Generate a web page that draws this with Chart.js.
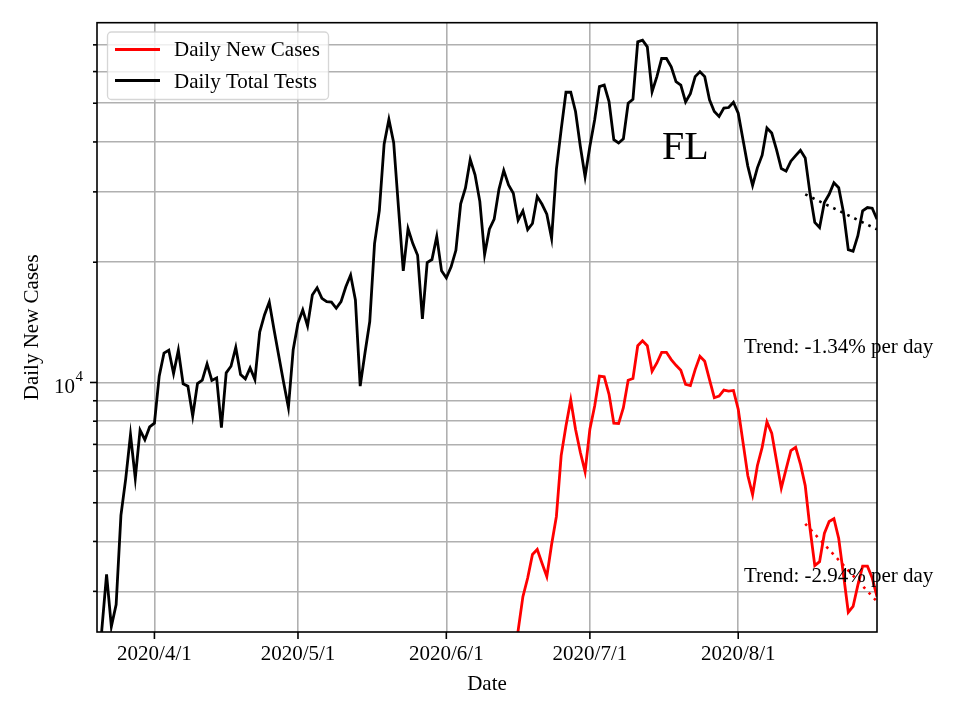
<!DOCTYPE html>
<html>
<head>
<meta charset="utf-8">
<script src="https://cdn.jsdelivr.net/npm/chart.js@4.4.1/dist/chart.umd.min.js"></script>
<style>
  html, body { margin: 0; padding: 0; background: #fff; }
  canvas { display: block; }
</style>
</head>
<body>
<canvas id="grafica-fl" width="960" height="720"></canvas>
<script>
// Eje x: dia 0 = 2020-03-20, ultimo dia = 2020-08-30
const primerDia = "2020-03-20";
const ultimoDia = 163;
const diasTicks = [12, 42, 73, 103, 134];
const etiquetasTicks = ["2020/4/1", "2020/5/1", "2020/6/1", "2020/7/1", "2020/8/1"];

// Eje y logaritmico
const ticksY = [3000, 4000, 5000, 6000, 7000, 8000, 9000, 10000, 20000, 30000, 40000, 50000, 60000, 70000];
const minY = 2374;
const maxY = 79530;

// Pruebas totales diarias (dia 0 .. 163)
const pruebasDiarias = [
  1500, 2400, 3310, 2450, 2780, 4650, 5740, 7400, 5760, 7600,
  7190, 7740, 7910, 10370, 11850, 12040, 10530, 12040, 9920, 9790,
  8240, 9940, 10130, 11130, 10120, 10270, 7710, 10570, 10980, 12240,
  10470, 10210, 10880, 10170, 13370, 14760, 15900, 13550, 11630, 10000,
  8660, 12080, 14080, 15190, 13860, 16550, 17260, 16240, 15930, 15900,
  15340, 15930, 17360, 18570, 16090, 9790, 11850, 14210, 22260, 26930,
  39480, 45530, 39850, 27450, 19030, 24260, 22260, 20820, 14430, 19960,
  20310, 23210, 19030, 18280, 19470, 21420, 27990, 30680, 36140, 33110,
  28410, 20910, 24200, 25630, 30440, 33950, 31210, 29750, 25490, 26890,
  24120, 25000, 29190, 27930, 26380, 22950, 34140, 42930, 53260, 53260,
  47680, 39020, 32730, 39020, 45440, 55020, 55540, 50490, 40530, 39770,
  40760, 50000, 51170, 71200, 71880, 69200, 53460, 58290, 64710, 64710,
  61710, 56620, 55540, 50390, 52850, 58290, 59960, 58290, 50970, 47680,
  46330, 48600, 48780, 50290, 47220, 40530, 34800, 31150, 34460, 37050,
  43340, 42110, 38270, 34330, 33810, 35810, 36980, 38130, 36490, 29750,
  25150, 24430, 28200, 29580, 31620, 30730, 26640, 21500, 21300, 23300,
  26890, 27410, 27300, 25630
];

// Casos nuevos diarios: antes del dia 87 quedan debajo del eje (no se leen)
const diaInicioCasos = 87;
const casosDiarios = [
  2000, 2390, 2910, 3240, 3710, 3820, 3530, 3270, 3930, 4620,
  6560, 7780, 9040, 7640, 6690, 5980, 7640, 8730, 10370, 10330,
  9340, 7910, 7890, 8650, 10130, 10230, 12360, 12720, 12360, 10670,
  11190, 11900, 11900, 11410, 11040, 10730, 9890, 9820, 10770, 11630,
  11300, 10170, 9160, 9250, 9570, 9520, 9550, 8570, 7080, 5850,
  5240, 6190, 6880, 7970, 7470, 6370, 5440, 6070, 6750, 6880,
  6250, 5520, 4310, 3480, 3560, 4190, 4490, 4560, 4070, 3300,
  2660, 2750, 3110, 3470, 3470, 3240, 2910
];

// Tendencias (ultimos 15 dias)
const tendenciaDias = [148, 163];
const tendenciaPruebas = [29580, 24170];
const tendenciaCasos = [4430, 2830];

const textoTendenciaPruebas = "Trend: -1.34% per day";
const textoTendenciaCasos = "Trend: -2.94% per day";
const nombreEstado = "FL";

const fuente = "'Liberation Serif', 'Times New Roman', serif";
Chart.defaults.font.family = fuente;
Chart.defaults.font.size = 21;
Chart.defaults.color = "#000";

const aPuntos = (valores, inicio) => valores.map((v, i) => ({x: inicio + i, y: v}));

// Marco, ticks, textos y leyenda al estilo matplotlib
const marcoYTextos = {
  id: "marcoYTextos",
  afterDatasetsDraw(chart) {
    const {ctx, chartArea: {left, right, top, bottom}, scales: {x, y}} = chart;
    ctx.save();
    ctx.strokeStyle = "#000";
    ctx.lineWidth = 1.6;

    const linea = (x1, y1, x2, y2) => {
      ctx.beginPath();
      ctx.moveTo(x1, y1);
      ctx.lineTo(x2, y2);
      ctx.stroke();
    };

    ticksY.forEach(v => {
      const py = y.getPixelForValue(v);
      linea(left - (v === 10000 ? 7 : 4), py, left, py);
    });
    diasTicks.forEach(d => {
      const px = x.getPixelForValue(d);
      linea(px, bottom, px, bottom + 7);
    });
    ctx.strokeRect(left, top, right - left, bottom - top);

    // etiqueta 10^4 con exponente
    const y4 = y.getPixelForValue(10000);
    ctx.fillStyle = "#000";
    ctx.textBaseline = "alphabetic";
    ctx.textAlign = "right";
    ctx.font = "21px " + fuente;
    ctx.fillText("10", 75, y4 + 10.3);
    ctx.textAlign = "left";
    ctx.font = "15px " + fuente;
    ctx.fillText("4", 75.5, y4 - 1);

    // textos
    ctx.font = "40px " + fuente;
    ctx.fillText(nombreEstado, 662, 159);
    ctx.font = "21px " + fuente;
    ctx.fillText(textoTendenciaPruebas, 744, 352.5);
    ctx.fillText(textoTendenciaCasos, 744, 582);

    // leyenda
    const lx = 107.5, ly = 32, lw = 221, lh = 67.5, r = 4;
    ctx.beginPath();
    ctx.moveTo(lx + r, ly);
    ctx.arcTo(lx + lw, ly, lx + lw, ly + lh, r);
    ctx.arcTo(lx + lw, ly + lh, lx, ly + lh, r);
    ctx.arcTo(lx, ly + lh, lx, ly, r);
    ctx.arcTo(lx, ly, lx + lw, ly, r);
    ctx.closePath();
    ctx.fillStyle = "rgba(255,255,255,0.8)";
    ctx.fill();
    ctx.strokeStyle = "rgba(204,204,204,0.8)";
    ctx.lineWidth = 1.3;
    ctx.stroke();

    ctx.lineWidth = 2.8;
    ctx.strokeStyle = "red";
    linea(115, 49.5, 160, 49.5);
    ctx.strokeStyle = "#000";
    linea(115, 80.5, 160, 80.5);
    ctx.fillStyle = "#000";
    ctx.fillText("Daily New Cases", 174, 56);
    ctx.fillText("Daily Total Tests", 174, 87.5);
    ctx.restore();
  }
};

new Chart(document.getElementById("grafica-fl"), {
  type: "line",
  data: {
    datasets: [
      {
        label: "Daily New Cases",
        data: aPuntos(casosDiarios, diaInicioCasos),
        borderColor: "red",
        borderWidth: 2.8,
        pointRadius: 0,
        tension: 0
      },
      {
        label: "Daily Total Tests",
        data: aPuntos(pruebasDiarias, 0),
        borderColor: "#000",
        borderWidth: 2.8,
        pointRadius: 0,
        tension: 0
      },
      {
        label: "Trend cases",
        data: tendenciaDias.map((d, i) => ({x: d, y: tendenciaCasos[i]})),
        borderColor: "red",
        borderWidth: 2.6,
        borderDash: [2.6, 5.2],
        pointRadius: 0
      },
      {
        label: "Trend tests",
        data: tendenciaDias.map((d, i) => ({x: d, y: tendenciaPruebas[i]})),
        borderColor: "#000",
        borderWidth: 2.6,
        borderDash: [2.6, 5.2],
        pointRadius: 0
      }
    ]
  },
  options: {
    responsive: false,
    animation: false,
    devicePixelRatio: 1,
    layout: {padding: {top: 22.7, right: 83, left: 0, bottom: 0}},
    plugins: {
      legend: {display: false},
      tooltip: {enabled: false}
    },
    scales: {
      x: {
        type: "linear",
        min: 0,
        max: ultimoDia,
        afterBuildTicks: eje => { eje.ticks = diasTicks.map(d => ({value: d})); },
        afterFit: eje => {
          eje.height = 88;
          eje.paddingLeft = 0;
          eje.paddingRight = 0;
        },
        ticks: {
          autoSkip: false,
          maxRotation: 0,
          padding: 10,
          callback: valor => etiquetasTicks[diasTicks.indexOf(valor)] || ""
        },
        grid: {color: "#b0b0b0", lineWidth: 1.6, drawTicks: false},
        border: {display: false},
        title: {display: true, text: "Date", padding: {top: 0, bottom: 23}}
      },
      y: {
        type: "logarithmic",
        min: minY,
        max: maxY,
        afterBuildTicks: eje => { eje.ticks = ticksY.map(v => ({value: v})); },
        afterFit: eje => {
          eje.width = 97;
          eje.paddingTop = 0;
          eje.paddingBottom = 0;
        },
        ticks: {
          autoSkip: false,
          padding: 14,
          callback: () => ""
        },
        grid: {color: "#b0b0b0", lineWidth: 1.6, drawTicks: false},
        border: {display: false},
        title: {display: true, text: "Daily New Cases", padding: {top: 20, bottom: 0}}
      }
    }
  },
  plugins: [marcoYTextos]
});
</script>
</body>
</html>
